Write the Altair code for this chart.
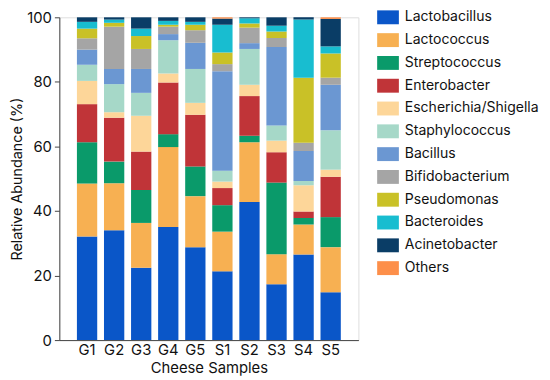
import altair as alt
import pandas as pd

samples = ["G1", "G2", "G3", "G4", "G5", "S1", "S2", "S3", "S4", "S5"]
genera = ["Lactobacillus", "Lactococcus", "Streptococcus", "Enterobacter",
          "Escherichia/Shigella", "Staphylococcus", "Bacillus", "Bifidobacterium",
          "Pseudomonas", "Bacteroides", "Acinetobacter", "Others"]
colors = ["#0a56c8", "#f7b052", "#0a9a6a", "#c03438", "#fdd699", "#a6d8c8",
          "#6b97d2", "#a5a5a5", "#c9c127", "#18bdd0", "#0a3d66", "#fd8f4a"]

# abundance per genus, in sample order G1..S5
lactobacillus  = [32.1, 34.0, 22.4, 35.0, 28.8, 21.3, 42.8, 17.3, 26.5, 14.8]
lactococcus    = [16.4, 14.6, 13.9, 24.8, 15.8, 12.3, 18.5,  9.3,  9.3, 14.0]
streptococcus  = [12.8,  6.7, 10.2,  4.0,  9.2,  8.2,  2.0, 22.2,  2.0,  9.3]
enterobacter   = [11.8, 13.6, 11.9, 16.0, 16.0,  5.3, 12.3,  9.4,  2.0, 12.5]
escherichia    = [ 7.2,  1.7, 11.1,  2.8,  3.7,  2.0,  3.5,  3.6,  8.2,  2.2]
staphylococcus = [ 5.0,  8.7,  7.1, 10.3, 10.5,  3.4, 11.1,  4.7,  1.3, 12.2]
bacillus       = [ 4.7,  4.7,  7.4,  1.9,  8.1, 30.8,  1.8, 24.3,  9.3, 14.1]
bifidobacterium= [ 3.5, 13.1,  6.2,  2.3,  3.9,  2.2,  4.8,  2.8,  2.5,  2.2]
pseudomonas    = [ 3.0,  1.2,  4.0,  0.6,  1.7,  3.6,  1.3,  2.0, 20.2,  7.5]
bacteroides    = [ 2.1,  1.0,  2.3,  1.2,  0.9,  8.6,  1.6,  1.8, 18.0,  2.2]
acinetobacter  = [ 1.4,  0.7,  3.5,  1.1,  1.4,  1.9,  0.3,  2.6,  0.7,  8.5]
others         = [ 0.0,  0.0,  0.0,  0.0,  0.0,  0.4,  0.0,  0.0,  0.0,  0.5]

series = [lactobacillus, lactococcus, streptococcus, enterobacter, escherichia,
          staphylococcus, bacillus, bifidobacterium, pseudomonas, bacteroides,
          acinetobacter, others]

rows = []
for gi, (g, vals) in enumerate(zip(genera, series)):
    for s, v in zip(samples, vals):
        rows.append({"Sample": s, "Genus": g, "Abundance": v, "idx": gi})
df = pd.DataFrame(rows)

FONT = "Inter"

chart = alt.Chart(df).mark_bar().encode(
    x=alt.X("Sample:N", sort=samples,
            scale=alt.Scale(paddingInner=0.25, paddingOuter=0.65),
            axis=alt.Axis(title="Cheese Samples", labelAngle=0, ticks=False,
                          labelFontSize=15, titleFontSize=15, titleFontWeight="normal",
                          labelColor="#111", titleColor="#111", domainColor="#444",
                          labelPadding=3, titlePadding=3)),
    y=alt.Y("Abundance:Q", stack="zero",
            scale=alt.Scale(domain=[0, 100], nice=False),
            axis=alt.Axis(title="Relative Abundance (%)", values=[0, 20, 40, 60, 80, 100],
                          grid=False, tickSize=5, tickColor="#444", domainColor="#444",
                          labelFontSize=15, titleFontSize=14.5, titleFontWeight="normal",
                          labelColor="#111", titleColor="#111", labelPadding=3,
                          titlePadding=2)),
    color=alt.Color("Genus:N", sort=genera,
                    scale=alt.Scale(domain=genera, range=colors),
                    legend=alt.Legend(title=None, orient="none", legendX=322, legendY=-11,
                                      padding=0, labelFontSize=14.2,
                                      labelColor="#111",
                                      symbolType="M-1,-0.64L1,-0.64L1,0.64L-1,0.64Z",
                                      symbolSize=484, symbolStrokeWidth=0,
                                      symbolOpacity=1, rowPadding=4.1,
                                      labelOffset=6)),
    order=alt.Order("idx:Q", sort="ascending"),
).properties(
    width=303, height=327,
    autosize=alt.AutoSizeParams(type="none"),
    padding={"left": 52, "top": 7, "right": 186, "bottom": 38},
).configure_view(stroke=None).configure(font=FONT)

chart.save("out.html", embed_options={"renderer": "svg", "actions": False})
